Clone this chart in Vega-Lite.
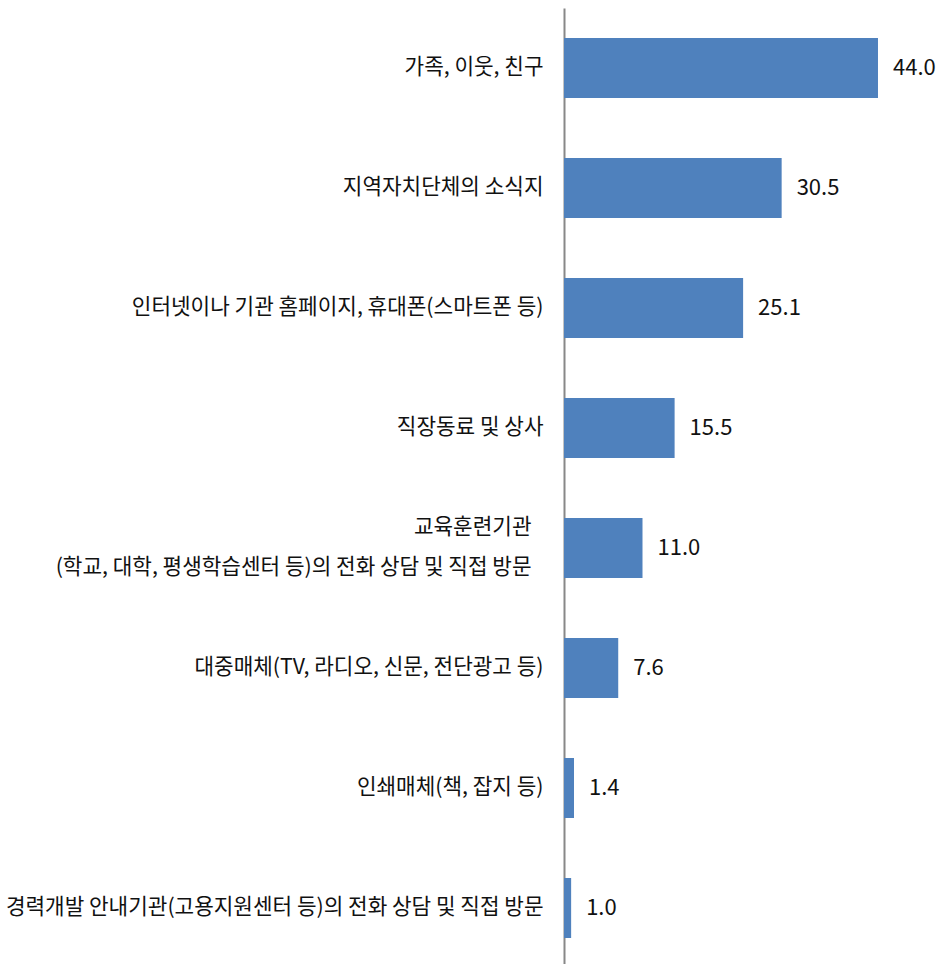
{
  "$schema": "https://vega.github.io/schema/vega-lite/v6.json",
  "autosize": "none",
  "width": 377,
  "height": 960,
  "padding": {"left": 564, "top": 8, "right": 0, "bottom": 0},
  "background": "white",
  "config": {"view": {"stroke": null}, "font": "Noto Sans CJK KR"},
  "data": {
    "values": [
      {"category": "가족, 이웃, 친구", "value": 44.0},
      {"category": "지역자치단체의 소식지", "value": 30.5},
      {"category": "인터넷이나 기관 홈페이지, 휴대폰(스마트폰 등)", "value": 25.1},
      {"category": "직장동료 및 상사", "value": 15.5},
      {"category": "교육훈련기관|(학교, 대학, 평생학습센터 등)의 전화 상담 및 직접 방문", "value": 11.0},
      {"category": "대중매체(TV, 라디오, 신문, 전단광고 등)", "value": 7.6},
      {"category": "인쇄매체(책, 잡지 등)", "value": 1.4},
      {"category": "경력개발 안내기관(고용지원센터 등)의 전화 상담 및 직접 방문", "value": 1.0}
    ]
  },
  "encoding": {
    "y": {
      "field": "category",
      "type": "nominal",
      "sort": null,
      "scale": {"paddingInner": 0.5, "paddingOuter": 0.25},
      "axis": {
        "title": null,
        "ticks": false,
        "domainColor": "#888888",
        "domainWidth": 2,
        "labelPadding": {"condition": {"test": "indexof(datum.value, '|') >= 0", "value": 33}, "value": 21},
        "labelFontSize": 21.3,
        "labelColor": "#111111",
        "labelFont": "Noto Sans CJK KR",
        "labelLimit": 800,
        "labelLineHeight": 40,
        "labelOffset": {"condition": {"test": "indexof(datum.value, '|') >= 0", "value": -20}, "value": 0},
        "labelExpr": "split(datum.value, '|')"
      }
    },
    "x": {
      "field": "value",
      "type": "quantitative",
      "scale": {"domain": [0, 52.83], "nice": false},
      "axis": null
    }
  },
  "layer": [
    {"mark": {"type": "bar", "color": "#4f81bd"}},
    {
      "mark": {"type": "text", "align": "left", "baseline": "middle", "dx": 15, "fontSize": 22, "color": "#111111", "font": "Noto Sans CJK KR"},
      "encoding": {"text": {"field": "value", "type": "quantitative", "format": ".1f"}}
    }
  ]
}
